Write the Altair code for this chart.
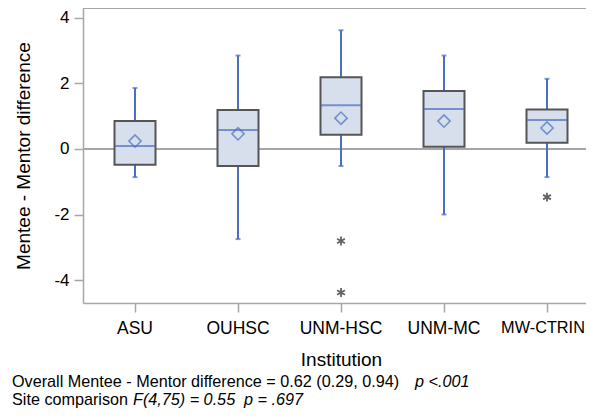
import altair as alt
import pandas as pd

institutions = ["ASU", "OUHSC", "UNM-HSC", "UNM-MC", "MW-CTRIN"]
q1 = [-0.48, -0.52, 0.43, 0.07, 0.19]
q3 = [0.85, 1.19, 2.19, 1.77, 1.20]
median = [0.09, 0.58, 1.33, 1.22, 0.88]
mean = [0.24, 0.46, 0.94, 0.85, 0.64]
whisk_lo = [-0.86, -2.75, -0.52, -2.00, -0.86]
whisk_hi = [1.86, 2.85, 3.62, 2.85, 2.14]
outlier_inst = ["UNM-HSC", "UNM-HSC", "MW-CTRIN"]
outlier_val = [-2.81, -4.38, -1.47]

y_domain = [-4.7, 4.3]
y_ticks = [-4, -2, 0, 2, 4]
note1a = "Overall Mentee - Mentor difference = 0.62 (0.29, 0.94) "
note1b = "p <.001"
note2a = "Site comparison "
note2b = "F(4,75) = 0.55\u00a0 p = .697"

df = pd.DataFrame({"inst": institutions, "q1": q1, "q3": q3, "median": median,
                   "mean": mean, "lo": whisk_lo, "hi": whisk_hi})
out = pd.DataFrame({"inst": outlier_inst, "val": outlier_val})

BLUE = "#4a6fc0"
GRAY = "#a6a6a6"
FONT = "Liberation Sans"
last = institutions[-1]

xenc = alt.X("inst:N", sort=institutions, title="Institution",
             scale=alt.Scale(paddingInner=0.5, paddingOuter=0.19175, align=0.6646),
             axis=alt.Axis(labelAngle=0,
                           labelFontSize={"condition": {"test": f"datum.value === '{last}'", "value": 16.3}, "value": 17.5},
                           labelOffset={"condition": {"test": f"datum.value === '{last}'", "value": -4}, "value": 0},
                           labelColor="black",
                           labelPadding=7, tickSize=9, tickColor=GRAY, tickWidth=1.5,
                           domain=True, domainColor=GRAY, domainWidth=1.5,
                           titleFontSize=19, titleFontWeight="normal",
                           titleColor="black", titlePadding=14, titleX=258))
yscale = alt.Scale(domain=y_domain, nice=False, zero=False)
yaxis = alt.Axis(values=y_ticks, labelExpr="toString(datum.value)",
                 labelFontSize=17, labelColor="black", labelPadding=5,
                 tickSize=9, tickColor=GRAY, tickWidth=1.5,
                 domain=True, domainColor=GRAY, domainWidth=1.5, grid=False,
                 title="Mentee - Mentor difference", titleFontSize=19,
                 titleFontWeight="normal", titleColor="black",
                 titleX=-54, titleBaseline="alphabetic")

base = alt.Chart(df)

zero = base.mark_rule(color=GRAY, strokeWidth=1.5).encode(
    y=alt.datum(0, scale=yscale, axis=yaxis))
top = base.mark_rule(color=GRAY, strokeWidth=1.5).encode(
    y=alt.datum(y_domain[1], scale=yscale))

whisk_low = base.mark_rule(color=BLUE, strokeWidth=2).encode(
    x=xenc, y=alt.Y("lo:Q", scale=yscale, axis=yaxis), y2="q1:Q")
whisk_high = base.mark_rule(color=BLUE, strokeWidth=2).encode(
    x=xenc, y=alt.Y("q3:Q", scale=yscale), y2="hi:Q")
cap_lo = base.mark_tick(color=BLUE, size=5, thickness=2).encode(
    x=xenc, y=alt.Y("lo:Q", scale=yscale))
cap_hi = base.mark_tick(color=BLUE, size=5, thickness=2).encode(
    x=xenc, y=alt.Y("hi:Q", scale=yscale))

box = base.mark_bar(size=41, fill="#d7dfed", stroke="#555555", strokeWidth=2).encode(
    x=xenc, y=alt.Y("q1:Q", scale=yscale), y2="q3:Q")

med = base.mark_tick(color=BLUE, size=40, thickness=2).encode(
    x=xenc, y=alt.Y("median:Q", scale=yscale))

mn = base.mark_point(shape="diamond", filled=False, color=BLUE, size=150,
                     strokeWidth=1.6).encode(
    x=xenc, y=alt.Y("mean:Q", scale=yscale))

ast = "M0,-1L0,1M-0.87,-0.5L0.87,0.5M-0.87,0.5L0.87,-0.5"
outl = alt.Chart(out).mark_point(shape=ast, filled=False, color="#222222", size=80,
                                 strokeWidth=1.8).encode(
    x=xenc, y=alt.Y("val:Q", scale=yscale))

def note(txt, x, y, italic=False):
    return alt.Chart(pd.DataFrame({"t": [txt]})).mark_text(
        align="left", baseline="alphabetic", fontSize=16.2, font=FONT,
        fontStyle="italic" if italic else "normal", color="black").encode(
        text="t:N", x=alt.value(x), y=alt.value(y))

notes = (note(note1a, -71, 379) + note(note1b, 332, 379, True)
         + note(note2a, -71, 396.5) + note(note2b, 50, 396.5, True))

chart = alt.layer(zero, top, whisk_low, whisk_high, cap_lo, cap_hi, box, med, mn, outl,
                  notes).properties(
    width=503, height=295,
    padding={"left": 75, "top": 0, "right": 0, "bottom": 105},
    autosize=alt.AutoSizeParams(type="none"),
).configure(font=FONT).configure_view(stroke=None)

chart.save("out.html", embed_options={"renderer": "svg", "actions": False})
